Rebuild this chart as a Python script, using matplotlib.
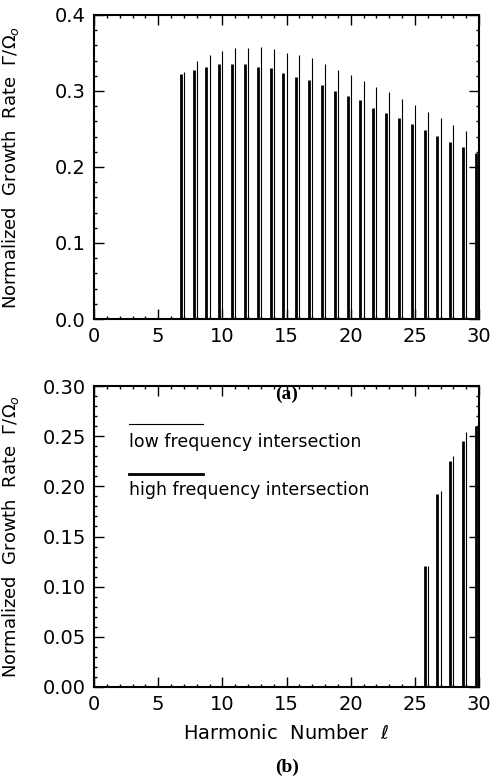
import numpy as np
import matplotlib
matplotlib.use("Agg")
import matplotlib.pyplot as plt
from matplotlib.ticker import MultipleLocator

plt.rcParams['font.family'] = ['DejaVu Sans']
plt.rcParams['mathtext.fontset'] = 'dejavusans'

# panel (a): harmonics 7..30, two intersections per harmonic
harm_a = np.arange(7, 31)
high_a = [0.322, 0.327, 0.332, 0.336, 0.335, 0.335, 0.331, 0.330, 0.324, 0.319,
          0.315, 0.308, 0.300, 0.294, 0.288, 0.278, 0.271, 0.265, 0.257, 0.249,
          0.241, 0.233, 0.226, 0.219]
low_a = [0.325, 0.339, 0.348, 0.353, 0.356, 0.357, 0.358, 0.355, 0.350, 0.347,
         0.343, 0.335, 0.328, 0.321, 0.313, 0.305, 0.299, 0.289, 0.281, 0.273,
         0.265, 0.255, 0.248, 0.242]

# panel (b): harmonics 26..30
harm_b = np.arange(26, 31)
high_b = [0.121, 0.192, 0.225, 0.245, 0.260]
low_b = [0.121, 0.195, 0.230, 0.254, 0.268]

# the high frequency root sits a little below the integer harmonic
shift_high = -0.24
shift_low = 0.0

ylabel = r"Normalized  Growth  Rate  $\Gamma/\Omega_o$"

fig = plt.figure(figsize=(4.96, 7.79), dpi=100)
ax_a = fig.add_axes([94 / 496, 1 - 319 / 779, 385 / 496, 304 / 779])
ax_b = fig.add_axes([94 / 496, 1 - 687 / 779, 385 / 496, 301 / 779])


def style_axes(ax, ymax, ymajor, yminor, yfmt):
    ax.set_xlim(0, 30)
    ax.set_ylim(0, ymax)
    ax.xaxis.set_major_locator(MultipleLocator(5))
    ax.xaxis.set_minor_locator(MultipleLocator(1))
    ax.yaxis.set_major_locator(MultipleLocator(ymajor))
    ax.yaxis.set_minor_locator(MultipleLocator(yminor))
    ax.set_yticks(np.arange(0, ymax + ymajor / 2, ymajor))
    ax.set_yticklabels([yfmt.format(v) for v in np.arange(0, ymax + ymajor / 2, ymajor)])
    ax.tick_params(which='both', direction='in', top=True, right=True,
                   labelsize=14, pad=6, width=1.0)
    ax.tick_params(which='major', length=7)
    ax.tick_params(which='minor', length=2.5)
    for sp in ax.spines.values():
        sp.set_linewidth(1.5)
    ax.set_ylabel(ylabel, fontsize=13)
    ax.yaxis.set_label_coords(-0.19, 0.5)


ax_a.vlines(harm_a + shift_high, 0, high_a, color='black', lw=2.0)
ax_a.vlines(harm_a + shift_low, 0, low_a, color='black', lw=0.8)
style_axes(ax_a, 0.4, 0.1, 0.02, "{:.1f}")

ax_b.vlines(harm_b + shift_high, 0, high_b, color='black', lw=2.0)
ax_b.vlines(harm_b + shift_low, 0, low_b, color='black', lw=0.8)
style_axes(ax_b, 0.30, 0.05, 0.01, "{:.2f}")
ax_b.set_xlabel(r"Harmonic  Number  $\ell$", fontsize=14, labelpad=7)

# legend drawn as line above its text, like the original
ax_b.plot([0.091, 0.283], [0.874, 0.874], transform=ax_b.transAxes,
          color='black', lw=0.8)
ax_b.text(0.091, 0.815, "low frequency intersection", transform=ax_b.transAxes,
          fontsize=12.5, va='center', ha='left')
ax_b.plot([0.091, 0.283], [0.709, 0.709], transform=ax_b.transAxes,
          color='black', lw=2.0)
ax_b.text(0.091, 0.653, "high frequency intersection", transform=ax_b.transAxes,
          fontsize=12.5, va='center', ha='left')

fig.text(287 / 496, 1 - 394 / 779, "(a)", family='Liberation Serif',
         fontsize=14, fontweight='bold', ha='center', va='center')
fig.text(287 / 496, 1 - 767 / 779, "(b)", family='Liberation Serif',
         fontsize=14, fontweight='bold', ha='center', va='center')

fig.savefig("out.png", dpi=100)
